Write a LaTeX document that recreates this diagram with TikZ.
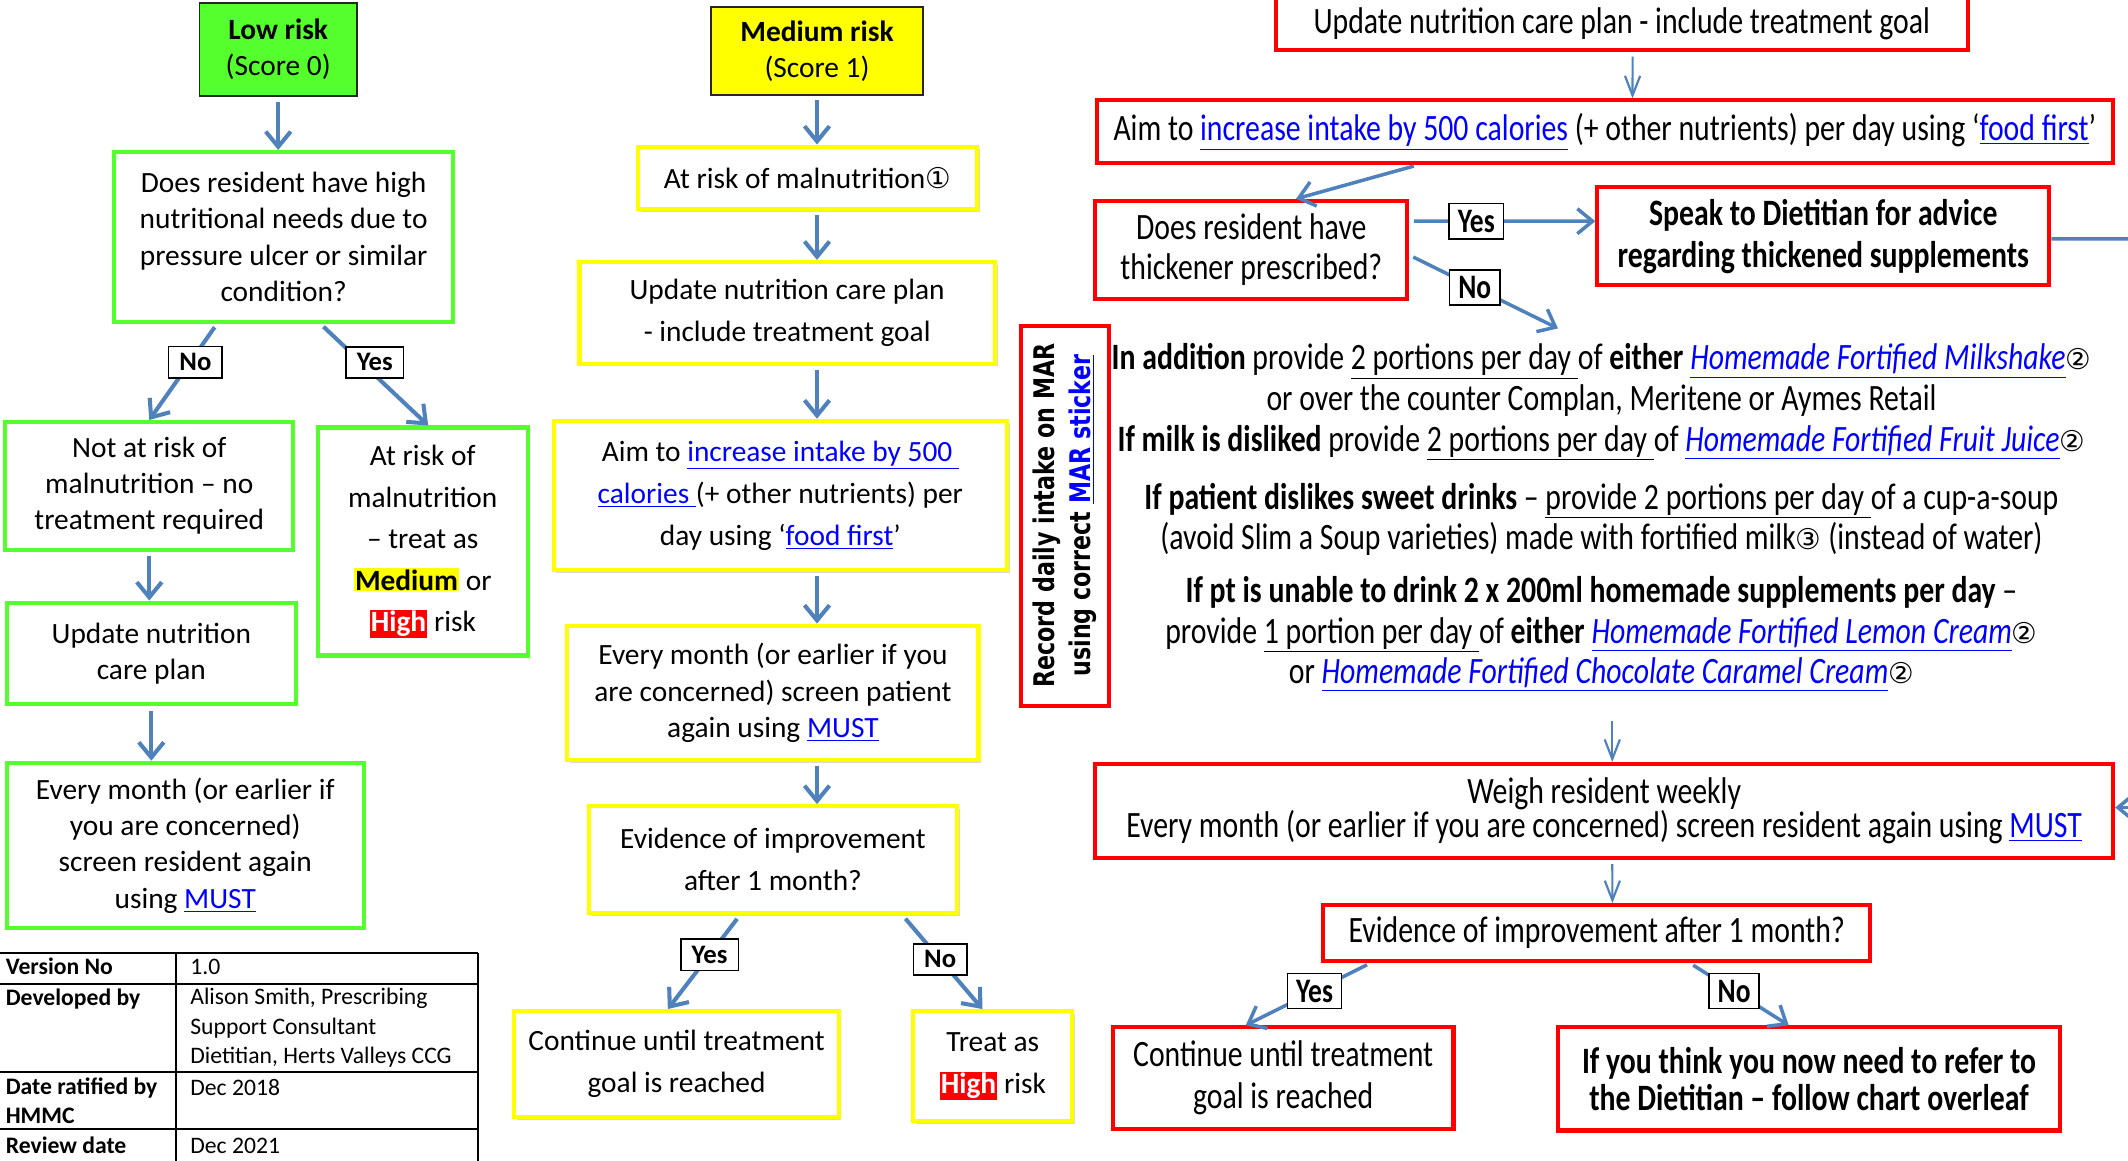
\documentclass[tikz,border=0pt]{standalone}
\usepackage{fontspec}
\setmainfont{Carlito}
\newfontfamily\narrowfont[FakeStretch=0.8]{Carlito}
\newfontfamily\marfont[FakeStretch=0.78]{DejaVu Sans}
\newfontfamily\circfont{DejaVu Sans}
\usetikzlibrary{arrows.meta, shadows}
\definecolor{rkGreen}{RGB}{85,255,45}
\definecolor{rkYellow}{RGB}{255,255,0}
\definecolor{rkRed}{RGB}{255,0,0}
\definecolor{rkArrow}{RGB}{79,129,189}
\definecolor{rkLink}{RGB}{0,0,255}
\newcommand{\lnk}[1]{\textcolor{rkLink}{\underline{#1}}}
\newcommand{\ilnk}[1]{\textcolor{rkLink}{\underline{\itshape #1}}}
\newcommand{\cnum}[1]{{\circfont\fontsize{15}{15}\selectfont #1}}
\newcommand{\highmark}{{\setlength{\fboxsep}{0.6pt}\colorbox{rkRed}{\textcolor{white}{\bfseries High}}}}
\newcommand{\medmark}{{\setlength{\fboxsep}{0.6pt}\colorbox{rkYellow}{\bfseries Medium}}}
\newcommand{\lfont}{\fontsize{15.4}{19}\selectfont}
\newcommand{\mfont}{\fontsize{15.4}{22}\selectfont}
\newcommand{\rfont}{\narrowfont\fontsize{19.5}{21.3}\selectfont}

\begin{document}
\begin{tikzpicture}[x=0.25mm, y=-0.25mm,
  gbox/.style={draw=rkGreen, line width=0.75mm, inner sep=0pt, align=center, font=\lfont},
  ybox/.style={draw=rkYellow, line width=0.75mm, fill=white, inner sep=0pt, align=center, font=\mfont,
               drop shadow={shadow xshift=0.5mm, shadow yshift=-0.5mm, opacity=0.3}},
  rbox/.style={draw=rkRed, line width=0.75mm, fill=white, inner sep=0pt, align=center, font=\rfont},
  riskbox/.style={draw=black!85, line width=0.35mm, inner sep=0pt, align=center, font=\lfont},
  lbl/.style={draw=black, line width=0.3mm, fill=white, inner xsep=2mm, inner ysep=0pt,
              minimum height=5.75mm, font=\bfseries\fontsize{14}{14}\selectfont},
  rlbl/.style={lbl, inner xsep=1.6mm, minimum height=6.5mm,
               font=\narrowfont\bfseries\fontsize{18}{18}\selectfont},
  arr/.style={draw=rkArrow, line width=0.75mm, shorten <=0.8mm,
              -{Straight Barb[length=2.8mm, width=4.6mm]}},
  rarr/.style={arr, line width=0.65mm},
  thinarr/.style={draw=rkArrow, line width=0.4mm, shorten <=0.8mm,
                  -{Straight Barb[length=3.6mm, width=2.8mm]}},
  tbl/.style={inner sep=0pt, align=left, font=\fontsize{12.4}{15.3}\selectfont},
  tblkey/.style={tbl, font=\bfseries\fontsize{12.4}{15.3}\selectfont},
]
\useasboundingbox (0,0) rectangle (1568,855);

% low risk
\node[riskbox, fill=rkGreen, minimum width=29mm, minimum height=17.25mm] (lowrisk) at (205,36.5)
  {\textbf{Low risk}\\(Score 0)};
\node[gbox, minimum width=62.5mm, minimum height=31.25mm] (needs) at (209,174.5)
  {Does resident have high\\nutritional needs due to\\pressure ulcer or similar\\condition?};
\node[gbox, minimum width=53mm, minimum height=23.5mm] (notrisk) at (110,358)
  {Not at risk of\\malnutrition – no\\treatment required};
\node[gbox, minimum width=38.75mm, minimum height=42mm, font=\fontsize{15.4}{21.7}\selectfont] (atrisk) at (311.5,399)
  {At risk of\\malnutrition\\– treat as\\\medmark{} or\\\highmark{} risk};
\node[gbox, minimum width=53.25mm, minimum height=18.75mm] (lowplan) at (111.5,481.5)
  {Update nutrition\\care plan};
\node[gbox, minimum width=65.75mm, minimum height=30.5mm] (lowscreen) at (136.5,623)
  {Every month (or earlier if\\you are concerned)\\screen resident again\\using \lnk{MUST}};

\draw[arr] (lowrisk.south) -- (needs.north -| lowrisk.south);
\draw[arr] ([xshift=-12.25mm]needs.south) -- node[lbl, pos=0.4, xshift=1mm] {No} (notrisk.north);
\draw[arr] ([xshift=6.75mm]needs.south) -- node[lbl, pos=0.38, xshift=2.5mm] {Yes} ([xshift=1mm]atrisk.north);
\draw[arr] (notrisk.south) -- (lowplan.north -| notrisk.south);
\draw[arr] (lowplan.south) -- (lowscreen.north -| lowplan.south);

% version table
\draw[line width=0.35mm] (-5,702) -- (352,702) (-5,725) -- (352,725) (-5,790) -- (352,790)
  (-5,832) -- (352,832) (130,702) -- (130,870) (352,702) -- (352,870);
\node[tblkey, anchor=base west] (verkey) at (4,718) {Version No};
\node[tbl, anchor=base west] (verval) at (140,718) {1.0};
\node[tblkey, anchor=base west] (devkey) at (4,741) {Developed by};
\node[tbl, anchor=north west] (devval) at (140,728)
  {Alison Smith, Prescribing\\Support Consultant\\Dietitian, Herts Valleys CCG};
\node[tblkey, anchor=north west] (datekey) at (4,794) {Date ratified by\\HMMC};
\node[tbl, anchor=base west] (dateval) at (140,807) {Dec 2018};
\node[tblkey, anchor=base west] (revkey) at (4,850) {Review date};
\node[tbl, anchor=base west] (revval) at (140,850) {Dec 2021};

% medium risk
\node[riskbox, fill=rkYellow, minimum width=39mm, minimum height=16.25mm] (medrisk) at (602,37.5)
  {\textbf{Medium risk}\\(Score 1)};
\node[ybox, minimum width=62.5mm, minimum height=11.5mm] (atmal) at (595,131)
  {At risk of malnutrition\cnum{①}};
\node[ybox, minimum width=76.5mm, minimum height=18.75mm] (medplan) at (580,230.5)
  {Update nutrition care plan\\- include treatment goal};
\node[ybox, minimum width=83.5mm, minimum height=27.5mm] (medaim) at (575,365)
  {Aim to \lnk{increase intake by 500 }\\\lnk{calories }(+ other nutrients) per\\day using ‘\lnk{food first}’};
\node[ybox, minimum width=75.75mm, minimum height=24.75mm, font=\fontsize{15.4}{19.2}\selectfont] (medscreen) at (569.5,510.5)
  {Every month (or earlier if you\\are concerned) screen patient\\again using \lnk{MUST}};
\node[ybox, minimum width=67.75mm, minimum height=19.75mm] (medevid) at (569.5,633.5)
  {Evidence of improvement\\after 1 month?};
\node[ybox, minimum width=59.75mm, minimum height=19.5mm] (medcont) at (498.5,784)
  {Continue until treatment\\goal is reached};
\node[ybox, minimum width=29.25mm, minimum height=20.25mm] (medhigh) at (731.5,785.5)
  {Treat as\\\highmark{} risk};

\draw[arr] (medrisk.south) -- (atmal.north -| medrisk.south);
\draw[arr] (atmal.south -| medrisk.south) -- (medplan.north -| medrisk.south);
\draw[arr] (medplan.south -| medrisk.south) -- (medaim.north -| medrisk.south);
\draw[arr] (medaim.south -| medrisk.south) -- (medscreen.north -| medrisk.south);
\draw[arr] (medscreen.south -| medrisk.south) -- (medevid.north -| medrisk.south);
\draw[arr] ([xshift=-6.1mm]medevid.south) -- node[lbl, pos=0.42] {Yes} ([xshift=-1.6mm]medcont.north);
\draw[arr] ([xshift=23.9mm]medevid.south) -- node[lbl, pos=0.47] {No} ([xshift=-1.9mm]medhigh.north);

% high risk
\node[rbox, minimum width=127.5mm, minimum height=9.75mm] (highplan) at (1195,17.5)
  {Update nutrition care plan - include treatment goal};
\node[rbox, minimum width=187.25mm, minimum height=11.5mm] (highaim) at (1182.5,97)
  {Aim to \lnk{increase intake by 500 calories} (+ other nutrients) per day using ‘\lnk{food first}’};
\node[rbox, minimum width=57.5mm, minimum height=18mm] (thick) at (922,184)
  {Does resident have\\thickener prescribed?};
\node[rbox, minimum width=83.25mm, minimum height=18mm, font=\narrowfont\bfseries\fontsize{19.5}{22}\selectfont] (dietitian) at (1343.5,174)
  {Speak to Dietitian for advice\\regarding thickened supplements};
\node[rbox, rotate=90, minimum width=70mm, minimum height=16.25mm,
      font=\marfont\bfseries\fontsize{14.9}{19}\selectfont] (mar) at (784.5,380)
  {Record daily intake on MAR\\using correct \lnk{MAR sticker}};
\node[inner sep=0pt, align=center, anchor=north, font=\rfont] (supp) at (1180,253)
  {\textbf{In addition} provide \underline{2 portions per day }of \textbf{either} \ilnk{Homemade Fortified Milkshake}\cnum{②}\\
   or over the counter Complan, Meritene or Aymes Retail\\
   \textbf{If milk is disliked} provide \underline{2 portions per day }of \ilnk{Homemade Fortified Fruit Juice}\cnum{②}\\[3.2mm]
   \textbf{If patient dislikes sweet drinks} – \underline{provide 2 portions per day }of a cup-a-soup\\
   (avoid Slim a Soup varieties) made with fortified milk\cnum{③} (instead of water)\\[2.2mm]
   \textbf{If pt is unable to drink 2 x 200ml homemade supplements per day} –\\
   provide \underline{1 portion per day }of \textbf{either} \ilnk{Homemade Fortified Lemon Cream}\cnum{②}\\
   or \ilnk{Homemade Fortified Chocolate Caramel Cream}\cnum{②}};
\node[rbox, minimum width=187.5mm, minimum height=17.25mm, font=\narrowfont\fontsize{19.5}{17.8}\selectfont] (weekly) at (1182,597.5)
  {Weigh resident weekly\\Every month (or earlier if you are concerned) screen resident again using \lnk{MUST}};
\node[rbox, minimum width=100.75mm, minimum height=10.25mm] (highevid) at (1176.5,687.5)
  {Evidence of improvement after 1 month?};
\node[rbox, minimum width=62.75mm, minimum height=18.75mm, font=\narrowfont\fontsize{19.5}{22}\selectfont] (highcont) at (945.5,794.5)
  {Continue until treatment\\goal is reached};
\node[rbox, minimum width=92.5mm, minimum height=19mm, font=\narrowfont\bfseries\fontsize{19.5}{19.2}\selectfont] (refer) at (1333,795)
  {If you think you now need to refer to\\the Dietitian – follow chart overleaf};

\coordinate (noend) at (1148,242);
\coordinate (suppfoot) at (1188,528);
\coordinate (loopout) at (1572,176);
\coordinate (loopin) at (1572,595);

\draw[thinarr] ([xshift=2mm]highplan.south) -- ([xshift=5.1mm]highaim.north);
\draw[rarr] ([xshift=-34.4mm]highaim.south) -- ([xshift=8.25mm]thick.north);
\draw[rarr] ([yshift=5.25mm]thick.east) -- node[rlbl, pos=0.36] {Yes} ([yshift=2.75mm]dietitian.west);
\draw[rarr] ([yshift=-1mm]thick.east) -- node[rlbl, pos=0.44] {No} (noend);
\draw[rkArrow, line width=0.65mm] ([yshift=-0.5mm]dietitian.east) -- (loopout);
\draw[rarr] (loopin) -- (loopin -| weekly.east);
\draw[thinarr] (suppfoot) -- (suppfoot |- weekly.north);
\draw[thinarr] ([xshift=1.5mm]weekly.south) -- ([xshift=2.9mm]highevid.north);
\draw[rarr] ([xshift=-41.6mm]highevid.south) -- node[rlbl, pos=0.45] {Yes} ([xshift=-6.9mm]highcont.north);
\draw[rarr] ([xshift=17.1mm]highevid.south) -- node[rlbl, pos=0.45] {No} ([xshift=-3.75mm]refer.north);
\end{tikzpicture}
\end{document}
